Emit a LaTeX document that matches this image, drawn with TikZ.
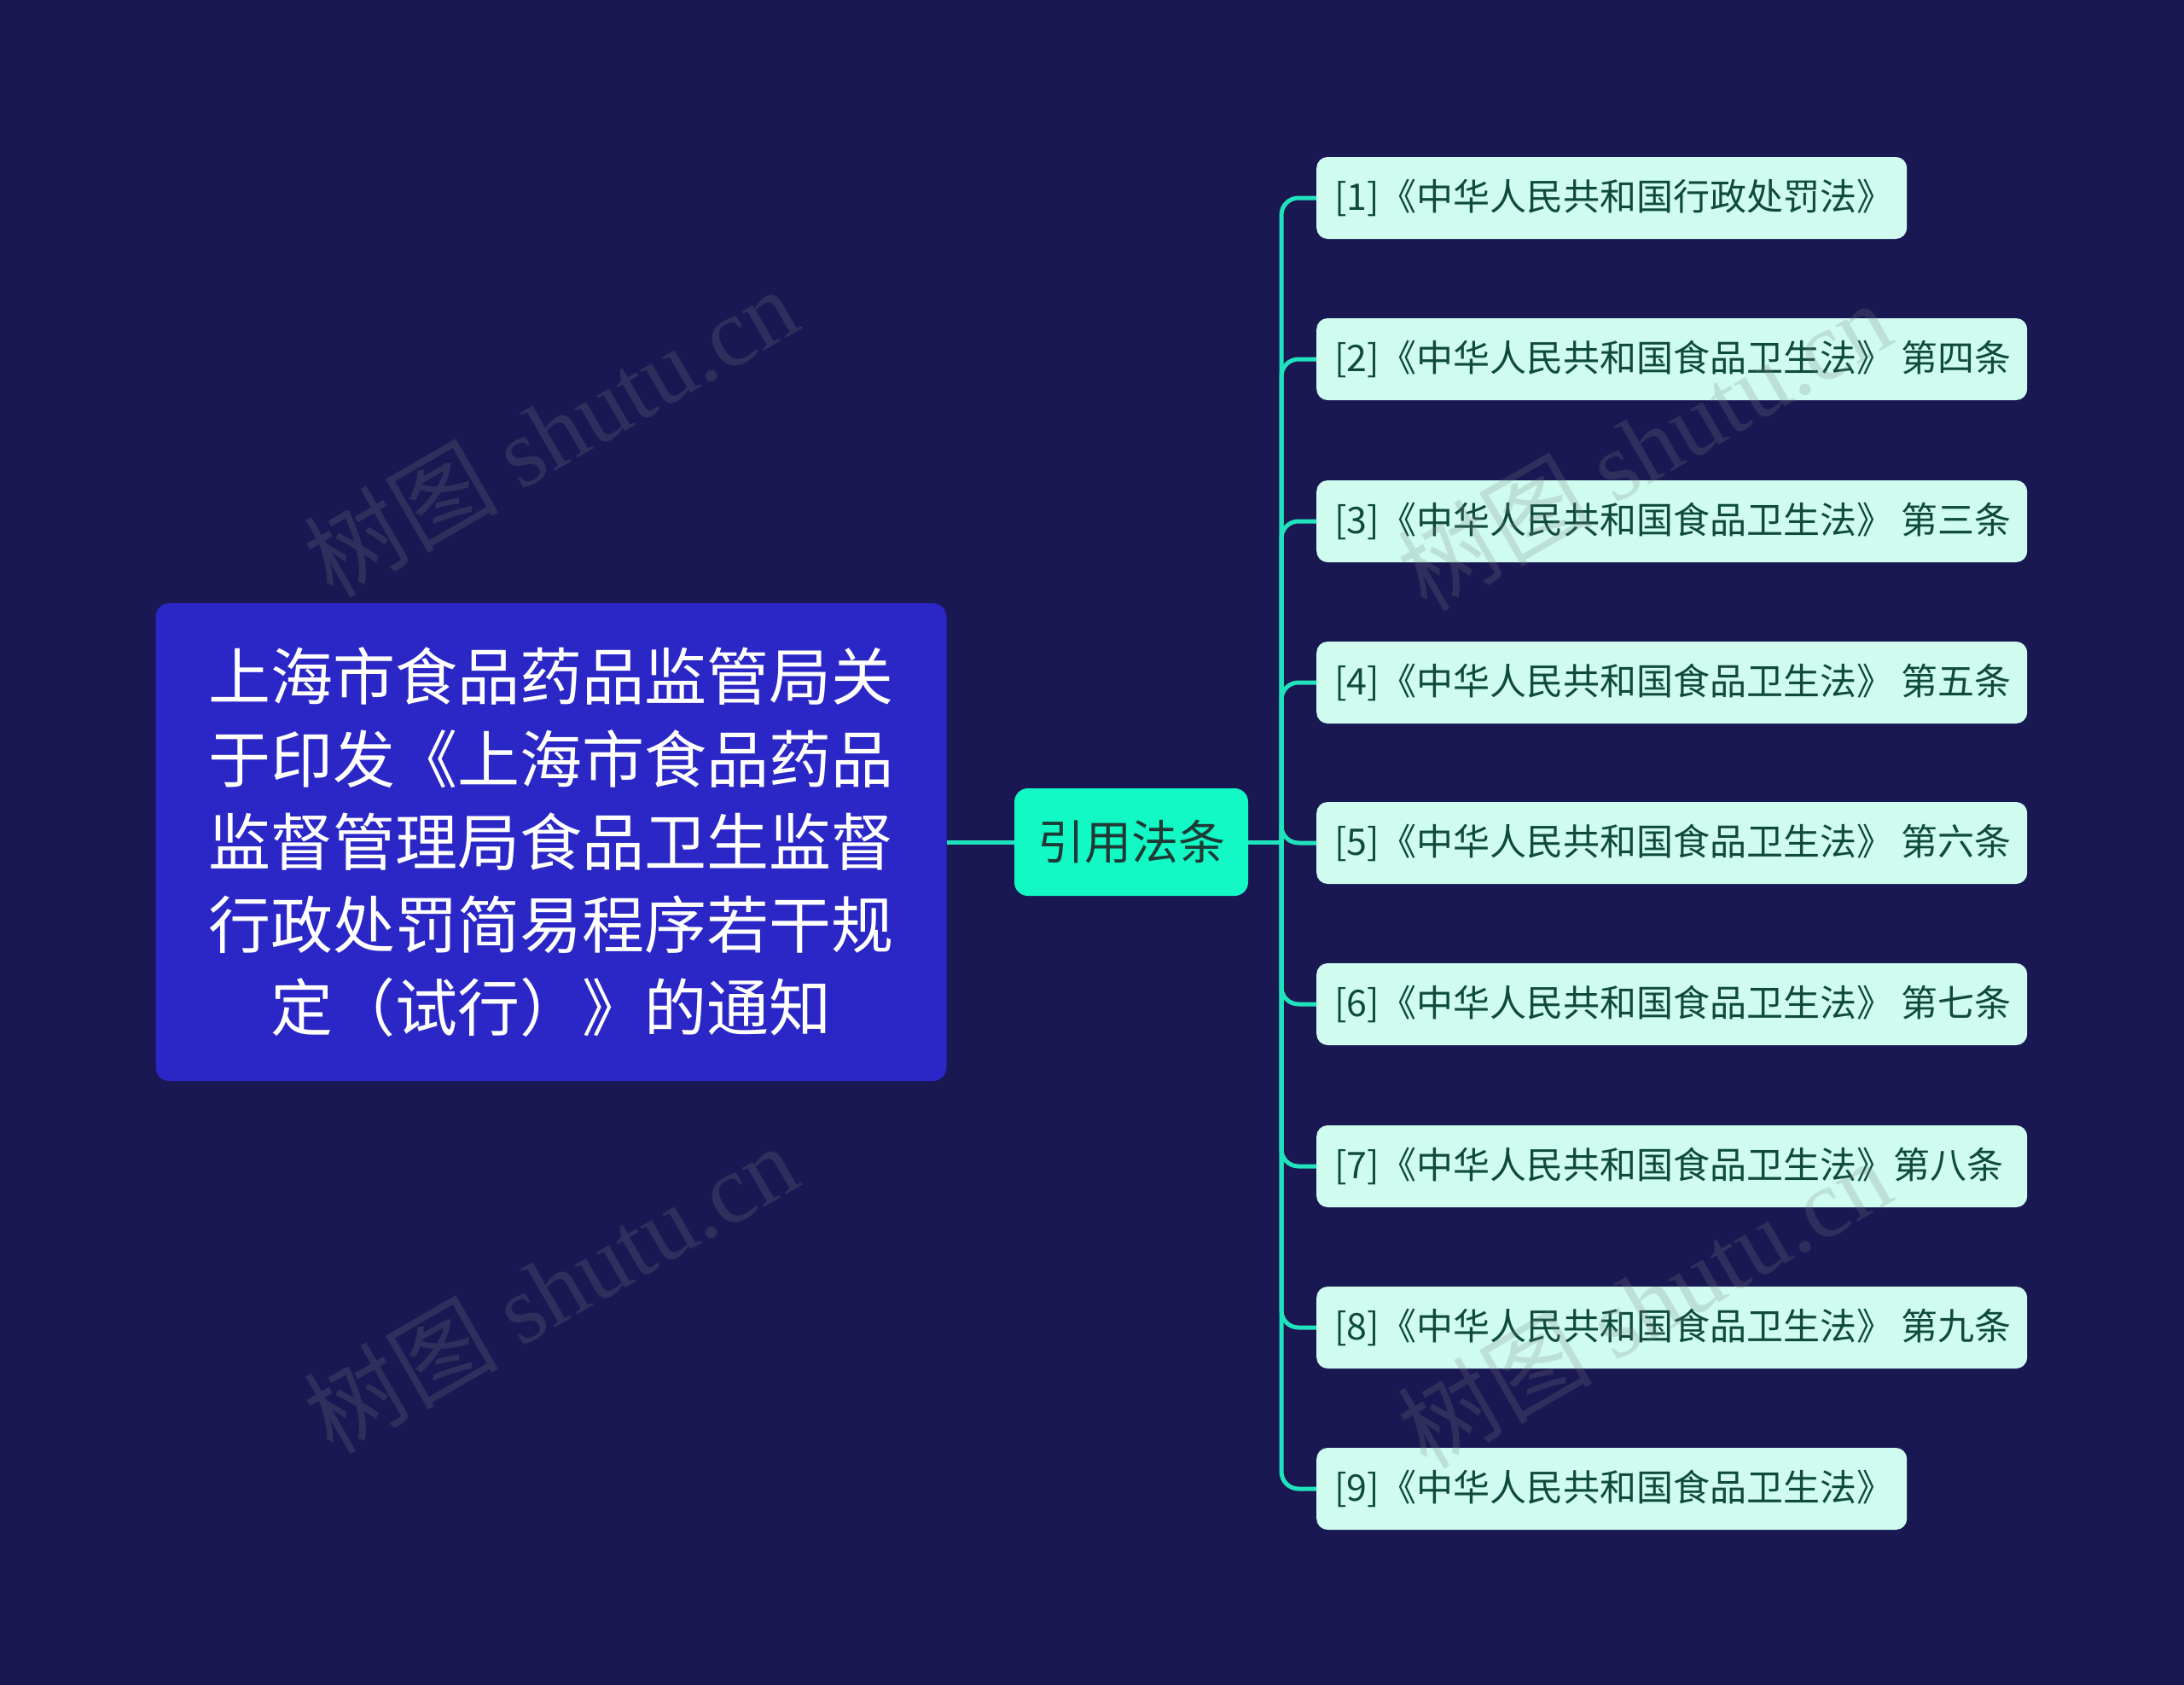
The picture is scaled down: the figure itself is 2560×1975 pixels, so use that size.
\documentclass[tikz,border=0pt]{standalone}
\usepackage{fontspec}
\setmainfont{Noto Sans CJK SC}
\newfontfamily\wmfont{Liberation Serif}
\newfontfamily\wmcjk{Noto Sans CJK SC}
\definecolor{bgc}{HTML}{1A1852}
\definecolor{rootc}{HTML}{2A27C6}
\definecolor{midc}{HTML}{12F9C6}
\definecolor{leafc}{HTML}{CFFCEF}
\definecolor{linec}{HTML}{1FE3BD}
\definecolor{leaftxt}{HTML}{0F4B3B}
\definecolor{midtxt}{HTML}{1E3A34}
\newcommand\shortlbl[1]{\makebox[650pt][l]{#1}}
\newcommand\longlbl[1]{\makebox[791pt][l]{#1}}
\tikzset{
  rootbox/.style={fill=rootc, rounded corners=16pt, minimum width=927pt, minimum height=560pt,
    text width=880pt, align=center, text=white, inner sep=0pt,
    font=\fontsize{73}{97}\selectfont},
  midbox/.style={fill=midc, rounded corners=16pt, minimum width=274pt, minimum height=126pt,
    text=midtxt, inner sep=0pt, font=\fontsize{55}{66}\selectfont},
  leafbox/.style={fill=leafc, rounded corners=13pt, minimum height=96pt, anchor=west,
    text=leaftxt, inner xsep=21pt, inner ysep=0pt,
    font=\fontsize{43}{50}\selectfont},
  conn/.style={draw=linec, line width=5pt},
  branchline/.style={conn, rounded corners=20pt},
  wm/.style={text=gray, opacity=0.22, rotate=30, font=\fontsize{114}{130}\selectfont}
}
\begin{document}
\begin{tikzpicture}[x=1pt,y=-1pt]
\fill[bgc] (0,0) rectangle (2560,1975);
\useasboundingbox (0,0) rectangle (2560,1975);

\node[rootbox] (root) at (646,987) {上海市食品药品监管局关\\于印发《上海市食品药品\\监督管理局食品卫生监督\\行政处罚简易程序若干规\\定（试行）》的通知};
\node[midbox] (mid) at (1326,987) {引用法条};

\node[leafbox] (l1) at (1543,232) {\shortlbl{[1]《中华人民共和国行政处罚法》}};
\node[leafbox] (l2) at (1543,421) {\longlbl{[2]《中华人民共和国食品卫生法》 第四条}};
\node[leafbox] (l3) at (1543,611) {\longlbl{[3]《中华人民共和国食品卫生法》 第三条}};
\node[leafbox] (l4) at (1543,800) {\longlbl{[4]《中华人民共和国食品卫生法》 第五条}};
\node[leafbox] (l5) at (1543,988) {\longlbl{[5]《中华人民共和国食品卫生法》 第六条}};
\node[leafbox] (l6) at (1543,1177) {\longlbl{[6]《中华人民共和国食品卫生法》 第七条}};
\node[leafbox] (l7) at (1543,1367) {\longlbl{[7]《中华人民共和国食品卫生法》第八条}};
\node[leafbox] (l8) at (1543,1556) {\longlbl{[8]《中华人民共和国食品卫生法》 第九条}};
\node[leafbox] (l9) at (1543,1745) {\shortlbl{[9]《中华人民共和国食品卫生法》}};

\coordinate (trunk) at (1502,987);
\draw[conn] (root.east) -- (mid.west);
\draw[conn] (mid.east) -- (trunk);
\foreach \n in {l1,l2,l3,l4,l5,l6,l7,l8,l9}{
  \draw[branchline] (trunk) |- (\n.west);
}

\node[wm] (w1) at (645,506) {{\wmcjk 树图} {\wmfont shutu.cn}};
\node[wm] (w2) at (1927,522) {{\wmcjk 树图} {\wmfont shutu.cn}};
\node[wm] (w3) at (645,1510) {{\wmcjk 树图} {\wmfont shutu.cn}};
\node[wm] (w4) at (1927,1527) {{\wmcjk 树图} {\wmfont shutu.cn}};
\end{tikzpicture}
\end{document}
